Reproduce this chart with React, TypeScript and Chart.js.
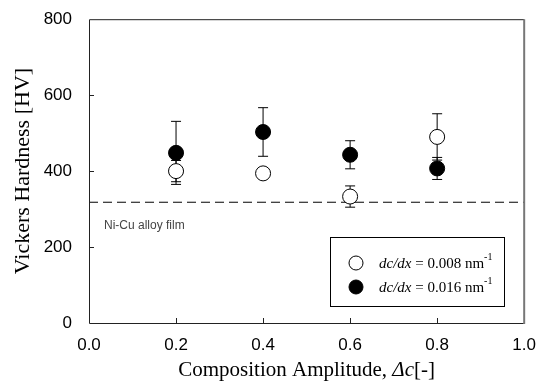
import React, { useEffect, useRef } from "react";
import { Chart, registerables } from "chart.js";

Chart.register(...registerables);

const amplitudes = [0.2, 0.4, 0.6, 0.8];
const hardnessOpen = [400, 394, 333, 490];
const errOpen = [28, 12, 28, 61];
const hardnessFilled = [448, 503, 443, 407];
const errFilled = [83, 64, 37, 29];
const alloyFilmHardness = 318;
const xTicks = [0, 0.2, 0.4, 0.6, 0.8, 1.0];
const yTicks = [0, 200, 400, 600, 800];
const legendLabels = ["0.008", "0.016"];

const LEFT = 89;
const TOP = 17;
const RIGHT = 528;
const BOTTOM = 323;
const SERIF = "'Liberation Serif', 'Times New Roman', serif";

const overlayPlugin = {
  id: "overlay",
  beforeDatasetsDraw(chart: any) {
    const ctx = chart.ctx;
    const xs = chart.scales.x;
    const ys = chart.scales.y;
    const area = chart.chartArea;
    ctx.save();
    const yd = ys.getPixelForValue(alloyFilmHardness);
    ctx.strokeStyle = "#000";
    ctx.lineWidth = 1;
    ctx.setLineDash([9, 5]);
    ctx.beginPath();
    ctx.moveTo(area.left, yd);
    ctx.lineTo(area.right, yd);
    ctx.stroke();
    ctx.setLineDash([]);
    ctx.fillStyle = "#444";
    ctx.font = "12px 'Liberation Sans', Arial, sans-serif";
    ctx.textAlign = "left";
    ctx.textBaseline = "alphabetic";
    ctx.fillText("Ni-Cu alloy film", area.left + 15, yd + 27);
    const drawErr = (vals: number[], errs: number[]) => {
      vals.forEach((v, i) => {
        const x = xs.getPixelForValue(amplitudes[i]);
        const y1 = ys.getPixelForValue(v + errs[i]);
        const y2 = ys.getPixelForValue(v - errs[i]);
        ctx.beginPath();
        ctx.moveTo(x, y1);
        ctx.lineTo(x, y2);
        ctx.moveTo(x - 5, y1);
        ctx.lineTo(x + 5, y1);
        ctx.moveTo(x - 5, y2);
        ctx.lineTo(x + 5, y2);
        ctx.stroke();
      });
    };
    ctx.strokeStyle = "#000";
    drawErr(hardnessFilled, errFilled);
    drawErr(hardnessOpen, errOpen);
    ctx.restore();
  },
  afterDraw(chart: any) {
    const ctx = chart.ctx;
    const xs = chart.scales.x;
    const ys = chart.scales.y;
    const area = chart.chartArea;
    ctx.save();
    ctx.lineWidth = 1;
    ctx.strokeStyle = "#222";
    ctx.beginPath();
    ctx.moveTo(area.right, area.top + 0.5);
    ctx.lineTo(area.left + 0.5, area.top + 0.5);
    ctx.lineTo(area.left + 0.5, area.bottom + 0.5);
    ctx.lineTo(area.right, area.bottom + 0.5);
    ctx.stroke();
    ctx.strokeStyle = "#777";
    ctx.lineWidth = 2;
    ctx.beginPath();
    ctx.moveTo(area.right, area.top);
    ctx.lineTo(area.right, area.bottom + 1);
    ctx.stroke();
    ctx.lineWidth = 1;
    ctx.strokeStyle = "#222";
    ctx.beginPath();
    xTicks.forEach((t) => {
      if (t === 0 || t === 1) return;
      const x = Math.round(xs.getPixelForValue(t)) + 0.5;
      ctx.moveTo(x, area.bottom);
      ctx.lineTo(x, area.bottom - 5);
    });
    yTicks.forEach((t) => {
      if (t === 0 || t === 800) return;
      const y = Math.round(ys.getPixelForValue(t)) + 0.5;
      ctx.moveTo(area.left, y);
      ctx.lineTo(area.left + 5, y);
    });
    ctx.stroke();
    // x axis title with italic part
    ctx.fillStyle = "#000";
    ctx.textAlign = "left";
    ctx.textBaseline = "alphabetic";
    const p1 = "Composition Amplitude, ";
    const p2 = "Δc";
    const p3 = "[-]";
    ctx.font = "21px " + SERIF;
    const w1 = ctx.measureText(p1).width;
    const w3 = ctx.measureText(p3).width;
    ctx.font = "italic 21px " + SERIF;
    const w2 = ctx.measureText(p2).width;
    let tx = (area.left + area.right) / 2 - (w1 + w2 + w3) / 2;
    const tb = 376;
    ctx.font = "21px " + SERIF;
    ctx.fillText(p1, tx, tb);
    tx += w1;
    ctx.font = "italic 21px " + SERIF;
    ctx.fillText(p2, tx, tb);
    tx += w2;
    ctx.font = "21px " + SERIF;
    ctx.fillText(p3, tx, tb);
    // legend
    const bx = 330, by = 237, bw = 174, bh = 69;
    ctx.fillStyle = "#fff";
    ctx.fillRect(bx, by, bw, bh);
    ctx.strokeStyle = "#000";
    ctx.lineWidth = 1;
    ctx.strokeRect(bx + 0.5, by + 0.5, bw, bh);
    legendLabels.forEach((lab, i) => {
      const cy = by + 26 + i * 24;
      ctx.beginPath();
      ctx.arc(356, cy, 7, 0, Math.PI * 2);
      ctx.fillStyle = i === 0 ? "#fff" : "#000";
      ctx.fill();
      ctx.strokeStyle = "#000";
      ctx.stroke();
      let x = 379;
      const base = cy + 5;
      ctx.fillStyle = "#000";
      ctx.textAlign = "left";
      ctx.font = "italic 15px " + SERIF;
      ctx.fillText("dc/dx", x, base);
      x += ctx.measureText("dc/dx").width;
      ctx.font = "15px " + SERIF;
      const mid = " = " + lab + " nm";
      ctx.fillText(mid, x, base);
      x += ctx.measureText(mid).width;
      ctx.font = "10px " + SERIF;
      ctx.fillText("-1", x, base - 8);
    });
    ctx.restore();
  },
};

export default function App() {
  const ref = useRef<HTMLCanvasElement>(null);
  useEffect(() => {
    document.body.style.margin = "0";
    const chart = new Chart(ref.current!, {
      type: "scatter",
      data: {
        datasets: [
          {
            label: "filled",
            data: amplitudes.map((x, i) => ({ x, y: hardnessFilled[i] })),
            pointRadius: 7.5,
            pointBackgroundColor: "#000",
            pointBorderColor: "#000",
            pointBorderWidth: 1,
            order: 2,
          },
          {
            label: "open",
            data: amplitudes.map((x, i) => ({ x, y: hardnessOpen[i] })),
            pointRadius: 7.5,
            pointBackgroundColor: "#fff",
            pointBorderColor: "#000",
            pointBorderWidth: 1,
            order: 1,
          },
        ],
      },
      options: {
        animation: false,
        responsive: false,
        layout: { padding: { top: TOP, right: 540 - RIGHT, left: 0, bottom: 0 } },
        plugins: { legend: { display: false }, tooltip: { enabled: false } },
        scales: {
          x: {
            type: "linear",
            min: 0,
            max: 1,
            afterFit: (s: any) => { s.height = 385 - BOTTOM; },
            afterBuildTicks: (s: any) => { s.ticks = xTicks.map((v) => ({ value: v })); },
            grid: { display: false },
            border: { display: false },
            ticks: {
              color: "#000",
              padding: 4,
              font: { family: "'Liberation Sans', Arial, sans-serif", size: 17 },
              callback: (v: any) => Number(v).toFixed(1),
              maxRotation: 0,
            },
          },
          y: {
            type: "linear",
            min: 0,
            max: 800,
            afterFit: (s: any) => { s.width = LEFT; },
            afterBuildTicks: (s: any) => { s.ticks = yTicks.map((v) => ({ value: v })); },
            grid: { display: false },
            border: { display: false },
            ticks: {
              color: "#000",
              padding: 9,
              font: { family: "'Liberation Sans', Arial, sans-serif", size: 17 },
            },
            title: {
              display: true,
              text: "Vickers Hardness [HV]",
              color: "#000",
              font: { family: SERIF, size: 22, lineHeight: 1 },
              padding: { top: 12, bottom: 0 },
            },
          },
        },
      },
      plugins: [overlayPlugin],
    });
    return () => chart.destroy();
  }, []);
  return <canvas ref={ref} width={540} height={385} style={{ display: "block" }} />;
}
